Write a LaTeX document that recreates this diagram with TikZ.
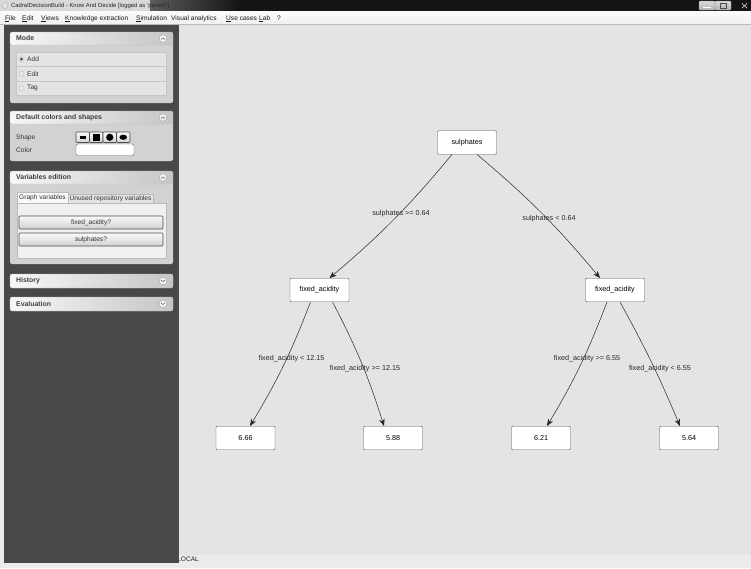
\documentclass[tikz,border=0pt]{standalone}
\usepackage{fontspec}
\setmainfont{Liberation Sans}
\usetikzlibrary{arrows.meta, positioning}
\definecolor{canvasgray}{RGB}{228,228,228}
\definecolor{framegray}{RGB}{236,236,236}
\definecolor{sidedark}{RGB}{72,72,72}
\definecolor{panelbody}{RGB}{210,210,210}
\definecolor{rowgray}{RGB}{228,228,228}
\definecolor{boxline}{RGB}{85,85,85}
\newcommand{\treefont}{\fontsize{7.2}{8.5}\selectfont}
\newcommand{\uifont}{\fontsize{6.6}{8}\selectfont}
\newcommand{\hdrfont}{\fontsize{6.9}{8}\selectfont\bfseries}
% panel header: top, bottom, title, chevron direction (1 = up, -1 = down)
\newcommand{\sidehead}[4]{%
  \shade[left color=gray!6, right color=gray!45, draw=gray!55, rounded corners=2pt]
    (10,#1) rectangle (173,#2);
  \node[anchor=west, font=\hdrfont, text=black!75, inner sep=0pt] at (16,{(#1+#2)/2}) {#3};
  \filldraw[fill=gray!10, draw=gray!70, line width=0.4pt] (163,{(#1+#2)/2}) circle (3.8);
  \draw[black!70, line width=0.45pt]
    (161.3,{(#1+#2)/2+0.9*#4}) -- (163,{(#1+#2)/2-0.6*#4}) -- (164.7,{(#1+#2)/2+0.9*#4});
}

\begin{document}
\begin{tikzpicture}[x=1pt,y=-1pt,
    treenode/.style={draw=boxline, fill=white, rounded corners=1pt,
      minimum width=59pt, minimum height=23.5pt, inner sep=0pt, font=\treefont},
    branch/.style={-{Stealth[length=7pt,width=5.5pt,inset=2pt]}, black!85, line width=0.5pt},
    edgelbl/.style={font=\treefont, text=black!85, inner sep=0pt},
    rowbox/.style={fill=rowgray, draw=gray!45, line width=0.3pt},
    uibtn/.style={top color=gray!5, bottom color=gray!35, draw=black!70, line width=0.6pt,
      rounded corners=1pt},
    uitext/.style={font=\uifont, text=black!80, inner sep=0pt}]
    \useasboundingbox (0,0) rectangle (751,568);
    % Window frame
    \fill[framegray] (0,0) rectangle (751,568);
    % Title bar
    \fill[black!92] (0,0) rectangle (751,11);
    \shade[left color=gray!35, right color=black!92] (0,0) rectangle (240,11);
    \fill[gray!30] (0,0) rectangle (150,11);
    \filldraw[fill=gray!20, draw=gray!70, line width=0.3pt] (5,5.5) circle (3);
    \node[anchor=west, font=\fontsize{5.9}{7}\selectfont, text=black!85, inner sep=0pt] (wtitle) at (11,5.5)
      {CadralDecisionBuild - Know And Decide [logged as 'parisot']};
    \shade[top color=gray!30, bottom color=gray!60, draw=gray!80, rounded corners=1pt] (699,1) rectangle (715,10);
    \shade[top color=gray!30, bottom color=gray!60, draw=gray!80, rounded corners=1pt] (715,1) rectangle (731,10);
    \draw[white, line width=1pt] (703,7) -- (711,7);
    \draw[black!70, line width=0.6pt] (720,3.5) rectangle (726,8);
    \draw[gray!50, line width=0.8pt] (742,3.5) -- (747,8) (742,8) -- (747,3.5);
    % Menu bar
    \shade[top color=gray!3, bottom color=gray!12] (0,11) rectangle (751,24);
    \draw[gray!55, line width=0.5pt] (0,24) -- (751,24);
    \foreach \mx/\mtext in {5/\underline{F}ile, 22/\underline{E}dit, 41/\underline{V}iews,
        65/\underline{K}nowledge extraction, 136/\underline{S}imulation, 171/Visual analytics,
        226/\underline{U}se cases, 259/\underline{L}ab, 277/?}
      \node[anchor=base west, uitext, text=black!90] at (\mx,20) {\mtext};
    % Canvas and status bar
    \fill[canvasgray] (179,25) rectangle (751,555);
    \node[anchor=west, uitext, text=black!85] (status) at (177,559.5) {LOCAL};
    % Side panel
    \fill[sidedark] (4,25) rectangle (179,563);
    % Mode
    \fill[panelbody, rounded corners=2pt] (10,40) rectangle (173,103);
    \sidehead{32}{45}{Mode}{1}
    \foreach \ry/\rtext in {52/Add, 66.5/Edit, 81/Tag}{
      \draw[rowbox] (16,\ry) rectangle (166,\ry+14.5);
      \filldraw[fill=gray!15, draw=gray!60, line width=0.3pt] (21.5,\ry+7.2) circle (2.6);
      \node[anchor=west, uitext] at (27,\ry+7.2) {\rtext};
    }
    \fill[black!75] (21.5,59.2) circle (1.5);
    % Default colors and shapes
    \fill[panelbody, rounded corners=2pt] (10,120) rectangle (173,161);
    \sidehead{111}{124}{Default colors and shapes}{1}
    \node[anchor=west, uitext] at (16,138) {Shape};
    \node[anchor=west, uitext] at (16,150) {Color};
    \foreach \bx in {76,89.5,103,116.5}
      \shade[uibtn] (\bx,132) rectangle (\bx+13.5,142.5);
    \fill[black] (79.5,135.5) rectangle (86,139);
    \fill[black] (92.5,133.8) rectangle (100,140.8);
    \fill[black] (109.75,137.25) circle (3.6);
    \fill[black] (123.25,137.25) ellipse (3.8 and 2.6);
    \filldraw[fill=white, draw=black!60, line width=0.4pt, rounded corners=2pt] (76,144) rectangle (134,155.5);
    % Variables edition
    \fill[panelbody, rounded corners=2pt] (10,180) rectangle (173,264);
    \sidehead{171}{184}{Variables edition}{1}
    \filldraw[fill=gray!12, draw=gray!55, line width=0.3pt] (17,203) rectangle (166,258);
    \filldraw[fill=gray!22, draw=gray!55, line width=0.3pt] (68,194.5) rectangle (153,203);
    \filldraw[fill=gray!5, draw=gray!55, line width=0.3pt] (17,203) -- (17,192) -- (68,192) -- (68,203);
    \node[uitext] (tabgraph) at (42.5,198) {Graph variables};
    \node[uitext] (tabunused) at (110.5,199) {Unused repository variables};
    \shade[uibtn] (19,216) rectangle (163,229);
    \node[uitext] (btnacid) at (91,222.5) {fixed\_acidity?};
    \shade[uibtn] (19,233) rectangle (163,246);
    \node[uitext] (btnsulph) at (91,239.5) {sulphates?};
    % History and Evaluation
    \sidehead{274}{288}{History}{-1}
    \sidehead{297}{311}{Evaluation}{-1}
    % Decision tree
    \node[treenode] (sulph) at (467,142.5) {sulphates};
    \node[treenode] (acidL) at (319.5,290) {fixed\_acidity};
    \node[treenode] (acidR) at (615,290) {fixed\_acidity};
    \node[treenode] (leafA) at (245.5,438) {6.66};
    \node[treenode] (leafB) at (393,438) {5.88};
    \node[treenode] (leafC) at (541,438) {6.21};
    \node[treenode] (leafD) at (689,438) {5.64};
    \draw[branch] ([xshift=-15pt]sulph.south) to[bend left=5] ([xshift=10pt]acidL.north);
    \draw[branch] ([xshift=10pt]sulph.south) to[bend left=5] ([xshift=-15pt]acidR.north);
    \draw[branch] ([xshift=-9pt]acidL.south) to[bend left=5] ([xshift=4.5pt]leafA.north);
    \draw[branch] ([xshift=13pt]acidL.south) to[bend left=5] ([xshift=-9pt]leafB.north);
    \draw[branch] ([xshift=-8pt]acidR.south) to[bend left=5] ([xshift=6pt]leafC.north);
    \draw[branch] ([xshift=5pt]acidR.south) to[bend left=3] ([xshift=-9pt]leafD.north);
    \node[edgelbl] (lblS1) at (401,214) {sulphates >= 0.64};
    \node[edgelbl] (lblS2) at (549,219) {sulphates < 0.64};
    \node[edgelbl] (lblL1) at (291.5,359) {fixed\_acidity < 12.15};
    \node[edgelbl] (lblL2) at (365,369) {fixed\_acidity >= 12.15};
    \node[edgelbl] (lblR1) at (587,359) {fixed\_acidity >= 6.55};
    \node[edgelbl] (lblR2) at (660,369) {fixed\_acidity < 6.55};
\end{tikzpicture}
\end{document}
